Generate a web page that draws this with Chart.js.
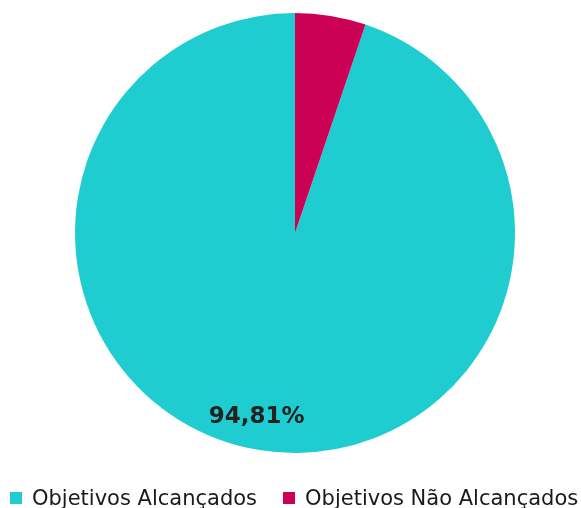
<!DOCTYPE html>
<html lang="pt">
<head>
  <meta charset="UTF-8">
  <title>Objetivos</title>
  <script src="https://cdn.jsdelivr.net/npm/chart.js"></script>
  <style>
    html, body { margin: 0; padding: 0; background: #fff; }
    #wrap { position: relative; width: 581px; height: 508px; }
    #legend {
      position: absolute; left: 10px; top: 486px;
      display: flex; align-items: center;
      font-family: "DejaVu Sans", sans-serif; font-size: 21px; line-height: 24px;
      color: #1a1a1a; white-space: nowrap;
    }
    #legend .item { display: flex; align-items: center; margin-right: 26px; }
    #legend .box { width: 12px; height: 12px; margin-right: 10px; }
  </style>
</head>
<body>
  <div id="wrap">
    <canvas id="pie"></canvas>
    <div id="legend"></div>
  </div>
  <script>
    const categories = ['Objetivos Alcançados', 'Objetivos Não Alcançados'];
    const values = [94.81, 5.19];
    const colors = ['#1fcdd1', '#cc0055'];

    // draw the percentage label on the big slice only
    const sliceLabel = {
      id: 'sliceLabel',
      afterDatasetsDraw(chart) {
        const arc = chart.getDatasetMeta(0).data[0];
        const mid = (arc.startAngle + arc.endAngle) / 2;
        const r = arc.outerRadius * 0.82;
        const x = arc.x + Math.cos(mid) * r - 9;
        const y = arc.y + Math.sin(mid) * r + 6;
        const ctx = chart.ctx;
        ctx.save();
        ctx.font = 'bold 23px "DejaVu Sans", sans-serif';
        ctx.fillStyle = '#222';
        ctx.textAlign = 'center';
        ctx.textBaseline = 'middle';
        ctx.fillText(values[0].toFixed(2).replace('.', ',') + '%', x, y);
        ctx.restore();
      }
    };

    const chart = new Chart(document.getElementById('pie'), {
      type: 'pie',
      data: {
        labels: categories,
        datasets: [{
          data: values,
          backgroundColor: colors,
          borderWidth: 0
        }]
      },
      options: {
        responsive: true,
        maintainAspectRatio: false,
        animation: false,
        rotation: values[1] * 3.6,
        layout: { padding: { top: 13, left: 9, bottom: 55 } },
        plugins: {
          tooltip: { enabled: false },
          legend: { display: false }
        }
      },
      plugins: [sliceLabel]
    });

    // html legend built from the chart's own legend items
    const legendEl = document.getElementById('legend');
    chart.options.plugins.legend.labels.generateLabels(chart).forEach(item => {
      const div = document.createElement('div');
      div.className = 'item';
      const box = document.createElement('span');
      box.className = 'box';
      box.style.background = item.fillStyle;
      div.appendChild(box);
      div.appendChild(document.createTextNode(item.text));
      legendEl.appendChild(div);
    });
  </script>
</body>
</html>
